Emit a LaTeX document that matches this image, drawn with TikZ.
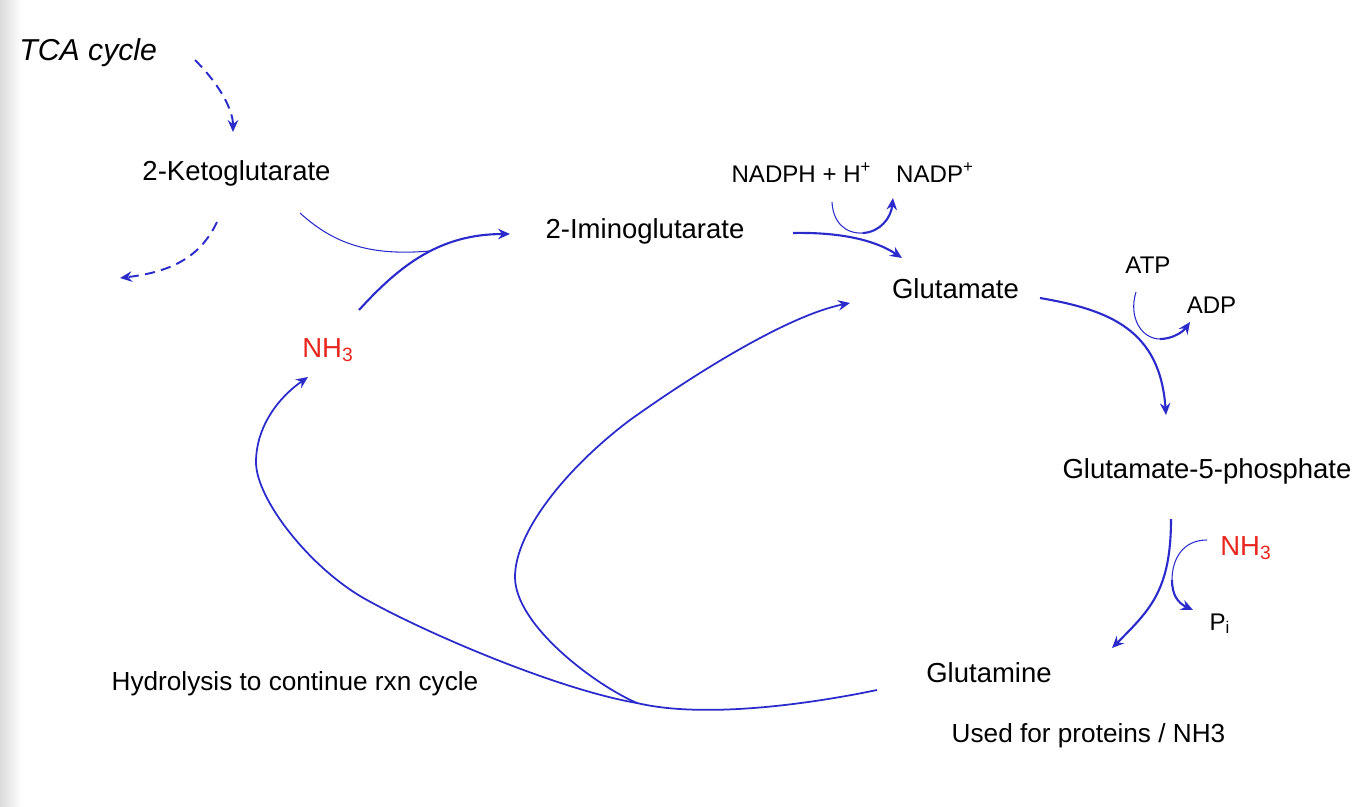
\documentclass[tikz,border=0pt]{standalone}
\usepackage{fontspec}
\setmainfont{Liberation Sans}
\usetikzlibrary{arrows.meta}
\definecolor{arrowblue}{RGB}{43,43,204}
\definecolor{nhred}{RGB}{232,38,30}
\tikzset{
  lbl/.style={anchor=base, inner sep=0pt, font=\fontsize{15.65}{18}\selectfont},
  smalllbl/.style={anchor=base, inner sep=0pt, font=\fontsize{13.7}{16}\selectfont},
  notelbl/.style={anchor=base, inner sep=0pt, font=\fontsize{14.9}{17}\selectfont},
  tipstyle/.style={-{Stealth[length=6.8pt,width=6pt,inset=2.3pt]}},
  arr/.style={draw=arrowblue, line width=1.2pt, tipstyle},
  looparr/.style={draw=arrowblue, line width=1pt, tipstyle},
  thinline/.style={draw=arrowblue, line width=0.6pt},
  dasharr/.style={draw=arrowblue, line width=1.1pt, dash pattern=on 5.8pt off 3.6pt, tipstyle},
}
\begin{document}
\begin{tikzpicture}[x=0.02cm,y=-0.02cm]
\useasboundingbox (0,0) rectangle (1370,806);
\shade[left color=black!14, right color=white] (0,0) rectangle (22,806);

% text nodes
\node[lbl, font=\fontsize{17.2}{20}\selectfont\itshape, anchor=base west] (tca) at (19,60) {TCA cycle};
\node[lbl] (akg) at (236.5,180) {2-Ketoglutarate};
\node[lbl] (imino) at (645,238) {2-Iminoglutarate};
\node[smalllbl] (nadph) at (801.5,182) {NADPH + H\textsuperscript{+}};
\node[smalllbl] (nadp) at (935,182) {NADP\textsuperscript{+}};
\node[lbl] (glu) at (955.5,298) {Glutamate};
\node[smalllbl] (atp) at (1148,273) {ATP};
\node[smalllbl] (adp) at (1211.5,313) {ADP};
\node[lbl] (g5p) at (1207,478) {Glutamate-5-phosphate};
\node[lbl, text=nhred] (nhr) at (1246,555) {NH\textsubscript{3}};
\node[smalllbl] (pi) at (1220,630) {P\textsubscript{i}};
\node[lbl] (gln) at (989,682) {Glutamine};
\node[notelbl] (used) at (1088.5,742) {Used for proteins / NH3};
\node[notelbl] (hydro) at (295,690) {Hydrolysis to continue rxn cycle};
\node[lbl, text=nhred] (nhl) at (328,357) {NH\textsubscript{3}};

% connector end points
\coordinate (tca-out) at (195,60);
\coordinate (akg-in) at (233,132);
\coordinate (akg-down) at (217,222);
\coordinate (akg-left) at (120,278);
\coordinate (akg-out) at (300,213);
\coordinate (merge1) at (430,251);
\coordinate (nhl-out) at (359,310);
\coordinate (imino-in) at (510,234);
\coordinate (imino-out) at (793,233);
\coordinate (glu-in) at (902,258);
\coordinate (nadph-out) at (832,202);
\coordinate (nad-mid) at (863,233);
\coordinate (nadp-in) at (893,198);
\coordinate (glu-out) at (1040,298);
\coordinate (g5p-in) at (1166,415);
\coordinate (atp-out) at (1136,292);
\coordinate (atp-mid) at (1160,339);
\coordinate (adp-in) at (1190,322);
\coordinate (g5p-out) at (1171,519);
\coordinate (gln-in) at (1112,648);
\coordinate (nhr-out) at (1207,540);
\coordinate (nhr-mid) at (1172,580);
\coordinate (pi-in) at (1193,610);
\coordinate (gln-out) at (877,690);
\coordinate (junc) at (637,703);
\coordinate (nhl-in) at (308,377);
\coordinate (glu-in2) at (850,303);

% TCA cycle -> 2-ketoglutarate, and away
\draw[dasharr] (tca-out) .. controls (220,85) and (233,110) .. (akg-in);
\draw[dasharr] (akg-down) .. controls (200,258) and (170,272) .. (akg-left);

% 2-ketoglutarate + NH3 -> 2-iminoglutarate
\draw[thinline] (akg-out) .. controls (335,245) and (372,256) .. (merge1);
\draw[arr] (nhl-out) .. controls (400,265) and (440,234) .. (imino-in);

% 2-iminoglutarate -> glutamate, NADPH -> NADP+
\draw[arr] (imino-out) .. controls (840,232) and (875,240) .. (glu-in);
\draw[thinline] (nadph-out) .. controls (833,222) and (845,234) .. (nad-mid);
\draw[arr] (nad-mid) .. controls (880,232) and (891,218) .. (nadp-in);

% glutamate -> glutamate-5-phosphate, ATP -> ADP
\draw[arr] (glu-out) .. controls (1110,310) and (1160,330) .. (g5p-in);
\draw[thinline] (atp-out) .. controls (1128,318) and (1142,339) .. (atp-mid);
\draw[arr] (atp-mid) .. controls (1172,339) and (1183,332) .. (adp-in);

% glutamate-5-phosphate -> glutamine, NH3 -> Pi
\draw[arr] (g5p-out) .. controls (1171,590) and (1150,610) .. (gln-in);
\draw[thinline] (nhr-out) .. controls (1182,540) and (1172,560) .. (nhr-mid);
\draw[arr] (nhr-mid) .. controls (1172,595) and (1178,603) .. (pi-in);

% hydrolysis loop
\draw[looparr] (gln-out) .. controls (800,706) and (700,718) .. (junc)
  .. controls (560,690) and (430,635) .. (367,600)
  .. controls (312,570) and (256,500) .. (256,462)
  .. controls (256,430) and (275,400) .. (nhl-in);
\draw[looparr] (junc) .. controls (595,685) and (515,625) .. (515,577)
  .. controls (515,530) and (570,465) .. (630,420)
  .. controls (700,370) and (790,315) .. (glu-in2);
\end{tikzpicture}
\end{document}
